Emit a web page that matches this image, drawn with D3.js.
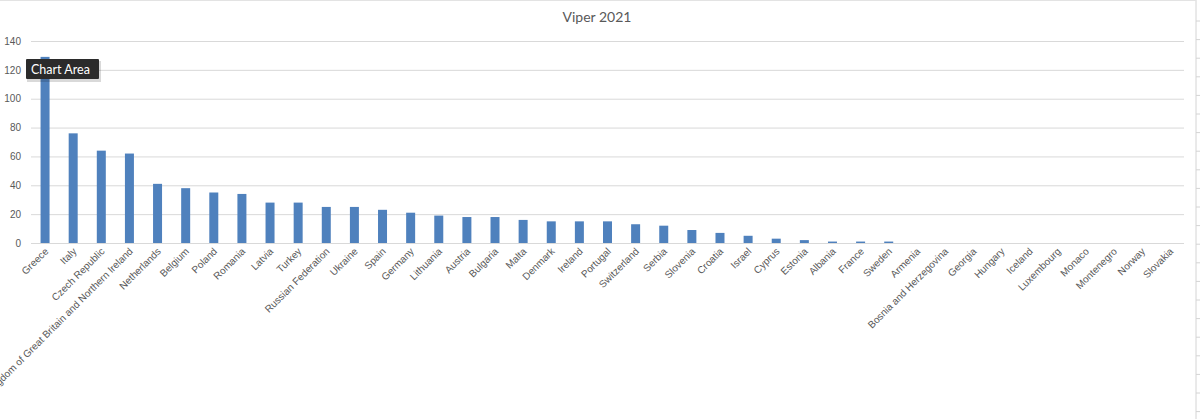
<!DOCTYPE html>
<html>
<head>
<meta charset="utf-8">
<script src="https://cdn.jsdelivr.net/npm/d3@7"></script>
<style>
  body { margin: 0; background: #fff; }
  svg { display: block; font-family: Lato, "Open Sans", sans-serif; }
</style>
</head>
<body>
<svg id="chart" width="1200" height="419"></svg>
<script>
// values
var countries = ["Greece", "Italy", "Czech Republic", "United Kingdom of Great Britain and Northern Ireland",
    "Netherlands", "Belgium", "Poland", "Romania", "Latvia", "Turkey", "Russian Federation", "Ukraine",
    "Spain", "Germany", "Lithuania", "Austria", "Bulgaria", "Malta", "Denmark", "Ireland", "Portugal",
    "Switzerland", "Serbia", "Slovenia", "Croatia", "Israel", "Cyprus", "Estonia", "Albania", "France",
    "Sweden", "Armenia", "Bosnia and Herzegovina", "Georgia", "Hungary", "Iceland", "Luxembourg",
    "Monaco", "Montenegro", "Norway", "Slovakia"];
var counts = [129, 76, 64, 62, 41, 38, 35, 34, 28, 28, 25, 25, 23, 21, 19, 18, 18, 16, 15, 15, 15,
    13, 12, 9, 7, 5, 3, 2, 1, 1, 1, 0, 0, 0, 0, 0, 0, 0, 0, 0, 0];
var yTicks = [0, 20, 40, 60, 80, 100, 120, 140];
var title = "Viper 2021";

chart();

function chart() {
    var svg = d3.select("#chart"),
        margin = {top: 41, left: 31, bottom: 176, right: 16},
        width = +svg.attr("width"),
        height = +svg.attr("height");

    var data = countries.map((c, i) => ({name: c, value: counts[i]}));

    var x = d3.scaleBand()
        .domain(countries)
        .range([margin.left, width - margin.right])
        .paddingInner(0.68)
        .paddingOuter(0.34);

    var y = d3.scaleLinear()
        .domain([0, 140])
        .range([height - margin.bottom, margin.top]);

    // spreadsheet edge on the right
    svg.append("line")
        .attr("x1", 1196).attr("x2", 1196).attr("y1", 0).attr("y2", height)
        .attr("stroke", "#d4d4d4");
    d3.range(21, height, 18.6).forEach(function(r) {
        svg.append("line")
            .attr("x1", 1196).attr("x2", 1200).attr("y1", r).attr("y2", r)
            .attr("stroke", "#d4d4d4");
    });
    svg.append("line")
        .attr("x1", 0).attr("x2", 1196).attr("y1", 0.5).attr("y2", 0.5)
        .attr("stroke", "#e3e3e3");

    // gridlines + y labels
    var yAxis = svg.append("g")
        .attr("transform", `translate(${margin.left},0)`)
        .call(d3.axisLeft(y).tickValues(yTicks).tickSize(-(width - margin.left - margin.right)).tickPadding(10));
    yAxis.select(".domain").remove();
    yAxis.selectAll("line").attr("stroke", "#d9d9d9");
    yAxis.selectAll("text")
        .attr("fill", "#595959")
        .style("font-size", "10px");

    svg.append("g").selectAll("rect")
        .data(data)
        .join("rect")
        .attr("x", d => x(d.name))
        .attr("width", x.bandwidth())
        .attr("y", d => y(d.value))
        .attr("height", d => y(0) - y(d.value))
        .attr("fill", "#4f81bd");

    // x labels, rotated like excel
    var xAxis = svg.append("g")
        .attr("transform", `translate(0,${y(0)})`)
        .call(d3.axisBottom(x).tickSize(0).tickPadding(0));
    xAxis.select(".domain").remove();
    xAxis.selectAll("text")
        .attr("fill", "#595959")
        .style("font-size", "10px")
        .attr("text-anchor", "end")
        .attr("dy", 0)
        .attr("transform", "translate(4,9) rotate(-45)");

    svg.append("text")
        .attr("x", 597).attr("y", 22)
        .attr("text-anchor", "middle")
        .attr("fill", "#595959")
        .style("font-size", "14px")
        .text(title);

    // the hover tooltip that is in the screenshot
    var tip = svg.append("g").attr("transform", "translate(26,59)");
    tip.append("rect").attr("x", 1).attr("y", 2).attr("width", 74).attr("height", 21)
        .attr("fill", "#000").attr("opacity", 0.15);
    tip.append("rect").attr("width", 73).attr("height", 20).attr("rx", 1)
        .attr("fill", "#2b2b2b");
    tip.append("text").attr("x", 5).attr("y", 14.5)
        .attr("fill", "#fff").style("font-size", "12.5px")
        .text("Chart Area");
}
</script>
</body>
</html>
